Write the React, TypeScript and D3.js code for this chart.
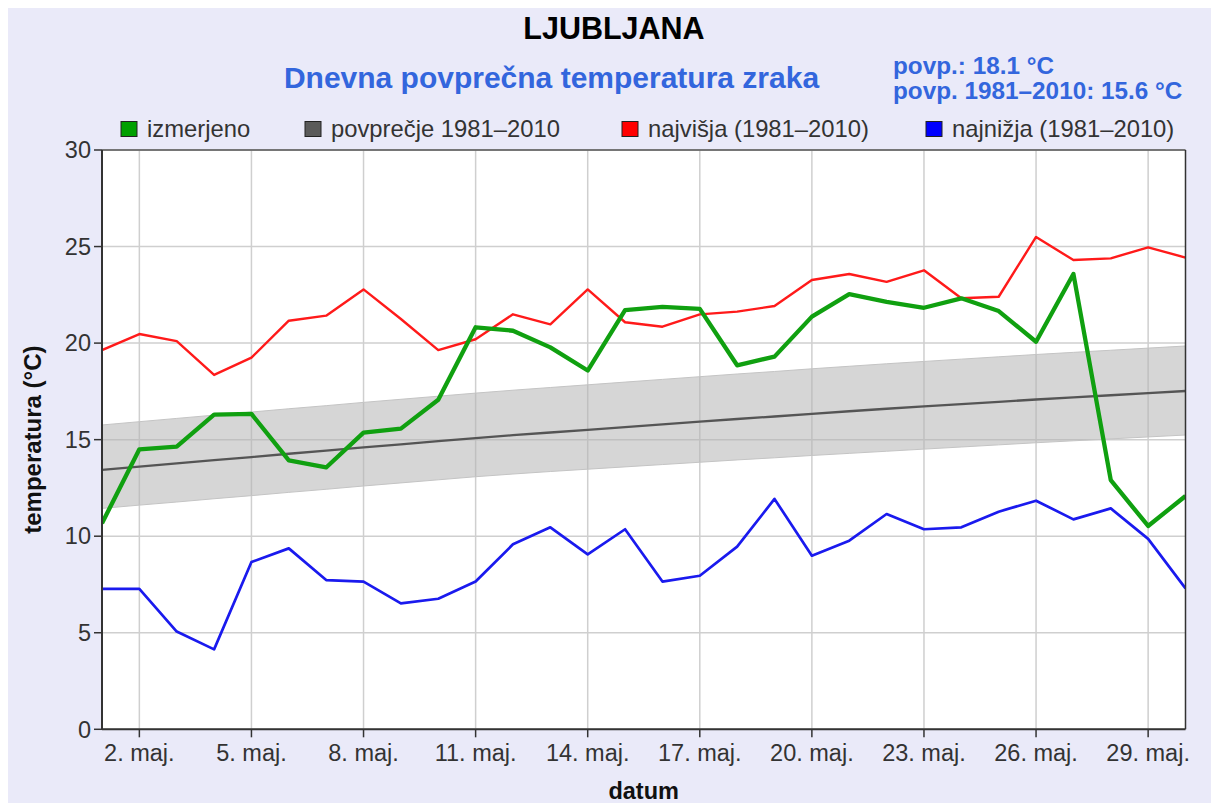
import React, { useLayoutEffect } from "react";
import * as d3 from "d3";

const days = d3.range(1, 31);
const measured = [10.67, 14.5, 14.64, 16.3, 16.33, 13.93, 13.56, 15.36, 15.57, 17.07, 20.82, 20.64, 19.78, 18.58, 21.71, 21.88, 21.77, 18.85, 19.3, 21.37, 22.54, 22.14, 21.83, 22.32, 21.66, 20.07, 23.58, 12.9, 10.53, 12.08];
const avg8110 = [13.43, 13.6, 13.77, 13.94, 14.1, 14.27, 14.43, 14.6, 14.76, 14.92, 15.08, 15.23, 15.37, 15.51, 15.65, 15.79, 15.93, 16.07, 16.2, 16.34, 16.47, 16.6, 16.72, 16.84, 16.96, 17.08, 17.19, 17.3, 17.41, 17.52];
const bandUpper = [15.76, 15.93, 16.1, 16.27, 16.43, 16.6, 16.76, 16.93, 17.09, 17.25, 17.41, 17.56, 17.7, 17.84, 17.98, 18.12, 18.26, 18.4, 18.53, 18.67, 18.8, 18.93, 19.05, 19.17, 19.29, 19.41, 19.52, 19.63, 19.74, 19.85];
const bandLower = [11.44, 11.61, 11.77, 11.94, 12.1, 12.27, 12.43, 12.6, 12.76, 12.92, 13.08, 13.22, 13.35, 13.47, 13.59, 13.71, 13.83, 13.95, 14.06, 14.18, 14.29, 14.4, 14.51, 14.62, 14.73, 14.84, 14.94, 15.04, 15.14, 15.24];
const maxT = [19.64, 20.47, 20.1, 18.35, 19.25, 21.16, 21.42, 22.78, 21.25, 19.64, 20.2, 21.49, 20.97, 22.78, 21.08, 20.85, 21.49, 21.63, 21.92, 23.27, 23.58, 23.17, 23.77, 22.32, 22.4, 25.5, 24.3, 24.39, 24.96, 24.43];
const minT = [7.27, 7.27, 5.06, 4.14, 8.66, 9.37, 7.73, 7.65, 6.52, 6.76, 7.65, 9.58, 10.46, 9.06, 10.36, 7.65, 7.95, 9.46, 11.93, 8.99, 9.77, 11.15, 10.36, 10.46, 11.27, 11.84, 10.87, 11.44, 9.86, 7.3];
const xTickDays = [2, 5, 8, 11, 14, 17, 20, 23, 26, 29];
const yTicks = [0, 5, 10, 15, 20, 25, 30];

const title = "LJUBLJANA";
const subtitle = "Dnevna povprečna temperatura zraka";
const infoLines = ["povp.: 18.1 °C", "povp. 1981–2010: 15.6 °C"];
const legendItems = [
  { label: "izmerjeno", color: "#00a000", x: 113 },
  { label: "povprečje 1981–2010", color: "#5a5a5a", x: 297 },
  { label: "najvišja (1981–2010)", color: "#ff0000", x: 614 },
  { label: "najnižja (1981–2010)", color: "#0000ff", x: 918 },
];

const PAGE_W = 1211;
const PAGE_H = 803;
const OFF = 8;
const W = PAGE_W - OFF;
const H = PAGE_H - OFF;
const M = { left: 94, right: 1177.5, top: 142, bottom: 721.3 };
const FONT = "'Liberation Sans', Arial, sans-serif";

export default function App() {
  useLayoutEffect(() => {
    document.documentElement.style.overflow = "hidden";
    document.body.style.margin = "0";
  }, []);

  const x = d3.scaleLinear().domain([1, 30]).range([M.left, M.right]);
  const y = d3.scaleLinear().domain([0, 30]).range([M.bottom, M.top]);

  const line = (vals: number[]) =>
    d3.line<number>().x((_, i) => x(days[i])).y((v) => y(v))(vals) || "";
  const band =
    d3
      .area<number>()
      .x((_, i) => x(days[i]))
      .y0((_, i) => y(bandLower[i]))
      .y1((_, i) => y(bandUpper[i]))(days) || "";

  return (
    <svg
      width={PAGE_W}
      height={PAGE_H}
      style={{ display: "block", fontFamily: FONT, background: "#ffffff" }}
    >
      <g transform={`translate(${OFF},${OFF})`}>
        <rect x={0} y={0} width={W} height={H} fill="#eaeaf9" />
        <rect x={M.left} y={M.top} width={M.right - M.left} height={M.bottom - M.top} fill="#ffffff" />

        {/* grid */}
        {yTicks.map((t) => (
          <line key={"gy" + t} x1={M.left} x2={M.right} y1={y(t)} y2={y(t)} stroke="#cfcfcf" strokeWidth={1.5} />
        ))}
        {xTickDays.map((d) => (
          <line key={"gx" + d} x1={x(d)} x2={x(d)} y1={M.top} y2={M.bottom} stroke="#cfcfcf" strokeWidth={1.5} />
        ))}

        <defs>
          <clipPath id="plotclip">
            <rect x={M.left} y={M.top} width={M.right - M.left} height={M.bottom - M.top} />
          </clipPath>
        </defs>

        <g clipPath="url(#plotclip)">
          <path d={band} fill="#b4b4b4" fillOpacity={0.55} stroke="#c4c4c4" strokeWidth={1} />
          <path d={line(avg8110)} fill="none" stroke="#555555" strokeWidth={2.3} />
          <path d={line(maxT)} fill="none" stroke="#ff1a1a" strokeWidth={2.4} strokeLinejoin="round" />
          <path d={line(minT)} fill="none" stroke="#1a1aee" strokeWidth={2.7} strokeLinejoin="round" />
          <path d={line(measured)} fill="none" stroke="#10a010" strokeWidth={4.3} strokeLinejoin="round" />
        </g>

        {/* frame */}
        <line x1={M.left} x2={M.right} y1={M.top} y2={M.top} stroke="#555" strokeWidth={1.5} />
        <line x1={M.right} x2={M.right} y1={M.top} y2={M.bottom} stroke="#333" strokeWidth={1.5} />
        <line x1={M.left} x2={M.left} y1={M.top} y2={M.bottom} stroke="#333" strokeWidth={2} />
        <line x1={M.left} x2={M.right} y1={M.bottom} y2={M.bottom} stroke="#333" strokeWidth={2} />

        {/* y axis */}
        {yTicks.map((t) => (
          <g key={"ty" + t}>
            <line x1={M.left - 8} x2={M.left} y1={y(t)} y2={y(t)} stroke="#333" strokeWidth={1.5} />
            <text x={M.left - 11} y={y(t)} dy="0.35em" textAnchor="end" fontSize={23.5} fill="#333">
              {t}
            </text>
          </g>
        ))}
        {/* x axis */}
        {xTickDays.map((d) => (
          <g key={"tx" + d}>
            <line x1={x(d)} x2={x(d)} y1={M.bottom} y2={M.bottom + 8} stroke="#333" strokeWidth={1.5} />
            <text x={x(d)} y={753} textAnchor="middle" fontSize={23.5} fill="#333">
              {d}. maj.
            </text>
          </g>
        ))}

        <text x={635.7} y={791} textAnchor="middle" fontSize={23.5} fontWeight="bold" fill="#111">
          datum
        </text>
        <text
          transform={`translate(33, ${(M.top + M.bottom) / 2}) rotate(-90)`}
          textAnchor="middle"
          fontSize={24}
          fontWeight="bold"
          fill="#111"
        >
          temperatura (°C)
        </text>

        {/* titles */}
        <text x={606} y={31} textAnchor="middle" fontSize={30.5} fontWeight="bold" fill="#000">
          {title}
        </text>
        <text x={543.5} y={80} textAnchor="middle" fontSize={30} fontWeight="bold" fill="#3366dd">
          {subtitle}
        </text>
        {infoLines.map((s, i) => (
          <text key={s} x={885} y={66 + i * 25} fontSize={24.3} fontWeight="bold" fill="#3366dd">
            {s}
          </text>
        ))}

        {/* legend */}
        {legendItems.map((it) => (
          <g key={it.label}>
            <rect x={it.x} y={113.5} width={16} height={15} fill={it.color} stroke="#222" strokeWidth={1} />
            <text x={it.x + 26} y={129} fontSize={23.8} fill="#333">
              {it.label}
            </text>
          </g>
        ))}
      </g>
    </svg>
  );
}
